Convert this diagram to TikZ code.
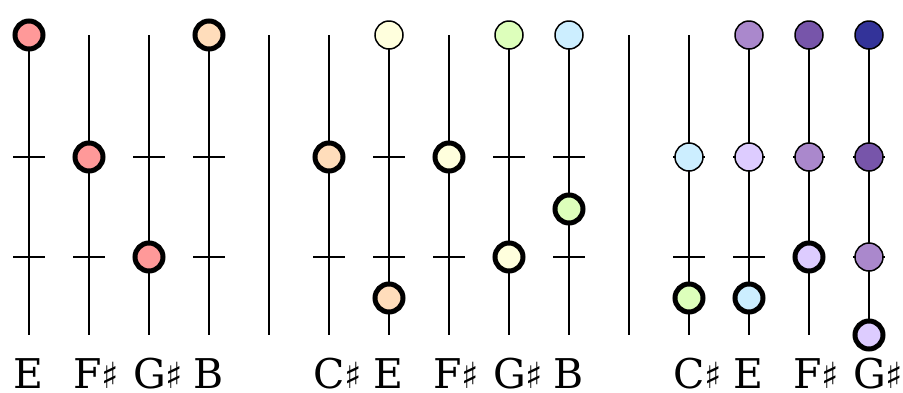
\documentclass[tikz,border=0pt]{standalone}
\usepackage{fontspec}
\setmainfont{DejaVu Serif}
\newfontfamily\symfont{DejaVu Sans}
\usetikzlibrary{positioning}
\definecolor{rd}{HTML}{FF9999}
\definecolor{pch}{HTML}{FFDDBB}
\definecolor{ylw}{HTML}{FFFFDD}
\definecolor{grn}{HTML}{DDFFBB}
\definecolor{blu}{HTML}{CCEEFF}
\definecolor{lav}{HTML}{DDCCFF}
\definecolor{prp}{HTML}{AA88CC}
\definecolor{dprp}{HTML}{7755AA}
\definecolor{nvy}{HTML}{333399}
\newcommand{\shp}{{\symfont\fontsize{36}{36}\selectfont ♯}}
\tikzset{
  wire/.style={line width=2pt,draw=black},
  tone/.style={circle,draw=black,line width=1.5pt,minimum size=28pt,inner sep=0pt,outer sep=0pt},
  ptone/.style={tone,line width=5pt},
  lbl/.style={anchor=base west,inner sep=0pt,font=\fontsize{41}{41}\selectfont},
}
\begin{document}
\begin{tikzpicture}[x=1pt,y=-1pt]
\useasboundingbox (0,0) rectangle (903,392);
% strings with two frets each
\foreach \x/\n in {29/1,89/2,149/3,209/4,329/5,389/6,449/7,509/8,569/9,689/10,749/11,809/12,869/13}{
  \coordinate (t\n) at (\x,35);
  \coordinate (b\n) at (\x,335);
  \draw[wire] (t\n) -- (b\n);
  \foreach \y in {157,257}
    \draw[wire] (\x-16,\y) -- (\x+16,\y);
}
% group dividers
\coordinate (d1t) at (269,35); \coordinate (d1b) at (269,335);
\coordinate (d2t) at (629,35); \coordinate (d2b) at (629,335);
\draw[wire] (d1t) -- (d1b);
\draw[wire] (d2t) -- (d2b);

% first group
\node[ptone,fill=rd] (a1) at (29,35) {};
\node[ptone,fill=rd] (a2) at (89,157) {};
\node[ptone,fill=rd] (a3) at (149,257) {};
\node[ptone,fill=pch] (a4) at (209,35) {};

% second group
\node[ptone,fill=pch] (b5) at (329,157) {};
\node[tone,fill=ylw] (b6o) at (389,35) {};
\node[ptone,fill=pch] (b6) at (389,298) {};
\node[ptone,fill=ylw] (b7) at (449,157) {};
\node[tone,fill=grn] (b8o) at (509,35) {};
\node[ptone,fill=ylw] (b8) at (509,257) {};
\node[tone,fill=blu] (b9o) at (569,35) {};
\node[ptone,fill=grn] (b9) at (569,209) {};

% third group
\node[tone,fill=blu] (c10o) at (689,157) {};
\node[ptone,fill=grn] (c10) at (689,298) {};
\node[tone,fill=prp] (c11o) at (749,35) {};
\node[tone,fill=lav] (c11m) at (749,157) {};
\node[ptone,fill=blu] (c11) at (749,298) {};
\node[tone,fill=dprp] (c12o) at (809,35) {};
\node[tone,fill=prp] (c12m) at (809,157) {};
\node[ptone,fill=lav] (c12) at (809,257) {};
\node[tone,fill=nvy] (c13o) at (869,35) {};
\node[tone,fill=dprp] (c13m) at (869,157) {};
\node[tone,fill=prp] (c13n) at (869,257) {};
\node[ptone,fill=lav] (c13) at (869,335) {};

% note names
\node[lbl] (l1) at (13,388) {E};
\node[lbl] (l2) at (73,388) {F\shp};
\node[lbl] (l3) at (133,388) {G\shp};
\node[lbl] (l4) at (193,388) {B};
\node[lbl] (l5) at (313,388) {C\shp};
\node[lbl] (l6) at (373,388) {E};
\node[lbl] (l7) at (433,388) {F\shp};
\node[lbl] (l8) at (493,388) {G\shp};
\node[lbl] (l9) at (553,388) {B};
\node[lbl] (l10) at (673,388) {C\shp};
\node[lbl] (l11) at (733,388) {E};
\node[lbl] (l12) at (793,388) {F\shp};
\node[lbl] (l13) at (853,388) {G\shp};
\end{tikzpicture}
\end{document}
